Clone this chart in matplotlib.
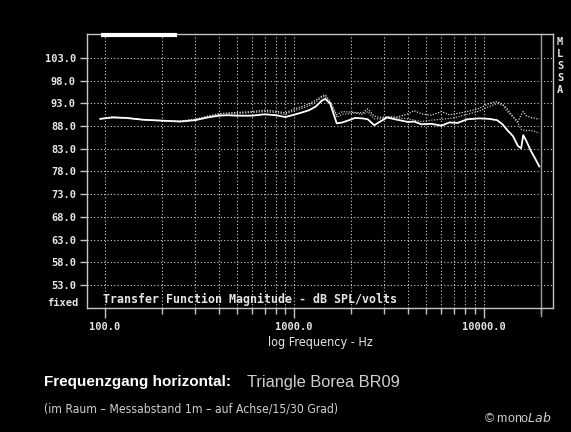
import numpy as np
import matplotlib
matplotlib.use("Agg")
import matplotlib.pyplot as plt
from matplotlib.ticker import FixedLocator, NullFormatter

# frequency points (Hz) shared by all three traces
freqs = [95, 110, 130, 160, 200, 250, 300, 350, 400, 450, 500, 600, 700, 800,
         900, 1000, 1100, 1200, 1300, 1400, 1460, 1550, 1680, 1800, 1950, 2100,
         2300, 2450, 2650, 2850, 3100, 3500, 4000, 4300, 4700, 5300, 6000, 6600,
         7300, 8200, 9500, 10700, 11800, 12600, 13300, 14300, 15200, 15800,
         16200, 16800, 17700, 18700, 19700]

# on axis (dotted)
spl_0 = [89.6, 90.0, 89.8, 89.4, 89.2, 89.1, 89.5, 90.2, 90.7, 90.9, 91.0, 91.2,
         91.5, 91.3, 90.9, 91.8, 92.3, 92.9, 93.7, 94.6, 94.9, 93.5, 90.5, 91.2,
         91.1, 91.0, 90.9, 91.8, 90.2, 89.9, 90.1, 90.0, 90.7, 91.4, 90.7, 90.4,
         91.2, 90.5, 90.8, 91.2, 91.9, 93.0, 93.4, 92.8, 91.9, 90.1, 89.0, 90.5,
         91.2, 90.3, 89.9, 89.7, 89.5]

# 15 degrees (dotted)
spl_15 = [89.6, 90.0, 89.8, 89.4, 89.2, 89.1, 89.4, 90.1, 90.6, 90.8, 90.8, 91.0,
          91.2, 91.0, 90.6, 91.4, 91.9, 92.5, 93.3, 94.3, 94.6, 93.2, 89.9, 90.6,
          90.7, 90.9, 90.6, 91.2, 89.6, 89.6, 89.9, 89.8, 89.6, 89.3, 89.0, 89.3,
          89.5, 89.7, 90.0, 90.6, 91.3, 92.3, 93.0, 92.7, 91.3, 90.0, 88.6, 87.3,
          87.1, 87.0, 87.1, 86.8, 86.4]

# 30 degrees (solid)
spl_30 = [89.6, 89.9, 89.8, 89.4, 89.2, 89.0, 89.3, 89.9, 90.3, 90.4, 90.3, 90.3,
          90.6, 90.4, 90.0, 90.5, 91.0, 91.5, 92.3, 93.6, 94.0, 93.0, 88.6, 88.8,
          89.3, 89.8, 89.7, 89.5, 88.2, 89.0, 89.9, 89.4, 88.9, 89.0, 88.4, 88.5,
          88.1, 88.8, 88.7, 89.5, 89.7, 89.6, 89.3, 88.4, 87.2, 85.8, 83.6, 83.1,
          86.0, 84.8, 82.7, 80.9, 79.1]

y_ticks = [53, 58, 63, 68, 73, 78, 83, 88, 93, 98, 103]
x_major = [100, 1000, 10000]
x_labels = ["100.0", "1000.0", "10000.0"]

fg = "#e6e6e6"
mono = "DejaVu Sans Mono"

fig = plt.figure(figsize=(5.71, 4.32), dpi=100, facecolor="black")
ax = fig.add_axes([0.1524, 0.287, 0.8161, 0.6343], facecolor="black")

ax.set_xscale("log")
ax.set_xlim(80.8, 23270)
ax.set_ylim(47.9, 108.3)

# grid
minor = [m * d for d in (100, 1000) for m in range(2, 10)]
grid_x = [100, 1000, 10000] + minor
for gx in grid_x:
    ax.axvline(gx, color="#cfcfcf", lw=0.8, ls=(0, (1, 2)), zorder=1)
for gy in y_ticks:
    ax.axhline(gy, color="#cfcfcf", lw=0.8, ls=(0, (1, 2)), zorder=1)

# 20 kHz marker
ax.axvline(20000, ymin=-0.03, ymax=1.0, color="#9a9a9a", lw=1.0, clip_on=False, zorder=2)

# traces
ax.plot(freqs, spl_0, color="#d8d8d8", lw=0.9, ls=(0, (1, 1.2)), zorder=3)
ax.plot(freqs, spl_15, color="#bdbdbd", lw=0.9, ls=(0, (1, 1.2)), zorder=3)
ax.plot(freqs, spl_30, color="white", lw=1.3, zorder=4)

# frame and ticks
for s in ax.spines.values():
    s.set_color("#c4c4c4")
    s.set_linewidth(1.0)

ax.set_yticks(y_ticks)
ax.set_yticklabels([f"{v:.1f}" for v in y_ticks], fontfamily=mono,
                   fontweight="bold", fontsize=7.5, color=fg)
ax.xaxis.set_major_locator(FixedLocator(x_major))
ax.set_xticklabels(x_labels, fontfamily=mono, fontweight="bold",
                   fontsize=7.5, color=fg)
ax.xaxis.set_minor_locator(FixedLocator(minor + [20000]))
ax.xaxis.set_minor_formatter(NullFormatter())
ax.tick_params(axis="y", colors="#c4c4c4", length=5, width=1, pad=3)
ax.tick_params(axis="x", which="major", colors="#c4c4c4", length=7, width=1, pad=3)
ax.tick_params(axis="x", which="minor", colors="#c4c4c4", length=4, width=1)
for lab in ax.get_xticklabels() + ax.get_yticklabels():
    lab.set_color(fg)

ax.text(-0.018, 0.0, "fixed", transform=ax.transAxes, ha="right", va="bottom",
        fontfamily=mono, fontweight="bold", fontsize=7.5, color=fg)
ax.text(0.034, 0.03, "Transfer Function Magnitude - dB SPL/volts",
        transform=ax.transAxes, ha="left", va="center", fontfamily=mono,
        fontweight="bold", fontsize=8.4, color=fg)

# white range bar at the top
ax.plot([0.030, 0.193], [0.996, 0.996], transform=ax.transAxes, color="white",
        lw=3, solid_capstyle="butt", clip_on=False, zorder=5)

ax.set_xlabel("log Frequency - Hz", fontfamily="DejaVu Sans",
              fontstretch="condensed", fontsize=9, color=fg, labelpad=3)

# MLSSA vertical label
for i, ch in enumerate("MLSSA"):
    fig.text(560 / 571, 1 - (42 + i * 12) / 432, ch, ha="center", va="center",
             fontfamily=mono, fontweight="bold", fontsize=7.5, color=fg)

# captions
fig.text(44 / 571, 1 - 382 / 432, "Frequenzgang horizontal:", ha="left",
         va="center", fontfamily="Liberation Sans", fontweight="bold",
         fontsize=11, color="white")
fig.text(247 / 571, 1 - 382 / 432, "Triangle Borea BR09", ha="left",
         va="center", fontfamily="Liberation Sans", fontsize=11.8, color="#cfcfcf")
fig.text(44 / 571, 1 - 409 / 432,
         "(im Raum \u2013 Messabstand 1m \u2013 auf Achse/15/30 Grad)",
         ha="left", va="center", fontfamily="DejaVu Sans",
         fontstretch="condensed", fontsize=8.7, color="#cfcfcf")
fig.text(484 / 571, 1 - 418 / 432, "\u00a9 mono$\\it{Lab}$", ha="left",
         va="center", fontfamily="Liberation Sans", fontsize=9, color="#cfcfcf")

fig.savefig("out.png", dpi=100, facecolor="black")
